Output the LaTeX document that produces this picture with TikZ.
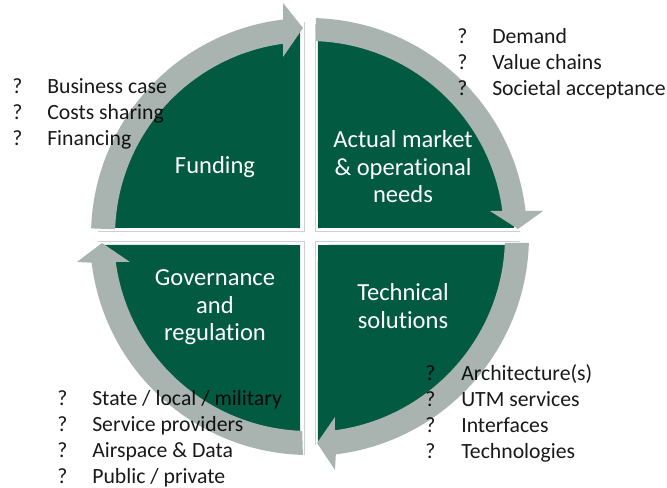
\documentclass[tikz,border=0pt]{standalone}
\usepackage{fontspec}
\setmainfont{Carlito}[Ligatures={NoCommon}]
\definecolor{deepgreen}{HTML}{025A40}
\definecolor{bandgrey}{HTML}{A9B3AF}
\definecolor{edgegrey}{HTML}{CFCFCF}
\tikzset{
  x=0.75pt,y=0.75pt,
  sector/.style={fill=deepgreen,draw=none},
  band/.style={fill=bandgrey,draw=none},
  edge/.style={draw=edgegrey,line width=0.7pt},
  title/.style={text=white,align=center,inner sep=0pt,font=\fontsize{18.4}{20.6}\selectfont},
  item/.style={text=black,anchor=base west,inner sep=0pt,font=\fontsize{16.3}{19.5}\selectfont,opacity=0.9},
}
\begin{document}
\begin{tikzpicture}
\useasboundingbox (0,0) rectangle (667,487);
\fill[white] (0,0) rectangle (667,487);
\begin{scope}[shift={(309,251)}]
% hairline frames
\draw[edge] (-211,5) -- (-5,5) -- (-5,214);
\draw[edge] (6,212) -- (6,5) -- (211,5);
\draw[edge] (-211,-5.5) -- (-5,-5.5) -- (-5,-219);
\draw[edge] (6,-209) -- (6,-5.5) -- (211,-5.5);
% quadrants
\path[sector] (-9,8) -- (177.7:205) arc[start angle=177.7,end angle=92.5,radius=205] -- cycle;
\path[sector] (9,8) -- (87.5:205) arc[start angle=87.5,end angle=2.3,radius=205] -- cycle;
\path[sector] (9,-9) -- (-2.5:205) arc[start angle=-2.5,end angle=-87.5,radius=205] -- cycle;
\path[sector] (-9,-9) -- (182.5:205) arc[start angle=182.5,end angle=267.5,radius=205] -- cycle;
% circular arrows
\path[band] (178:218) arc[start angle=178,end angle=96.8,radius=218]
  -- (-26,233) -- (-6,208) -- (-26,179)
  -- (97.7:194) arc[start angle=97.7,end angle=178,radius=194] -- cycle;
\path[band] (88.2:218) arc[start angle=88.2,end angle=6.6,radius=218]
  -- (234,25) -- (209,7) -- (181,25)
  -- (7.4:195) arc[start angle=7.4,end angle=87.9,radius=195] -- cycle;
\path[band] (-1.8:220) arc[start angle=-1.8,end angle=-83,radius=220]
  -- (26,-234) -- (8,-207) -- (26,-181)
  -- (-82.4:196) arc[start angle=-82.4,end angle=-2,radius=196] -- cycle;
\path[band] (268.4:219) arc[start angle=268.4,end angle=187,radius=219]
  -- (-232,-26) -- (-207,-7) -- (-179,-26)
  -- (187.6:195) arc[start angle=187.6,end angle=268,radius=195] -- cycle;
\end{scope}
% quadrant titles
\node[title] (funding) at (215,319.5) {Funding};
\node[title] (market) at (403,320) {Actual market\\\&\ operational\\needs};
\node[title] (tech) at (403,181) {Technical\\solutions};
\node[title] (gov) at (215,179.5) {Governance\\and\\regulation};
% lists
\node[item] (a1) at (457,444) {?}; \node[item] (a2) at (492,444) {Demand};
\node[item] (a3) at (457,418) {?}; \node[item] (a4) at (492,418) {Value chains};
\node[item] (a5) at (457,392) {?}; \node[item] (a6) at (492,392) {Societal acceptance};
\node[item] (b1) at (12,394) {?}; \node[item] (b2) at (47,394) {Business case};
\node[item] (b3) at (12,368) {?}; \node[item] (b4) at (47,368) {Costs sharing};
\node[item] (b5) at (12,342) {?}; \node[item] (b6) at (47,342) {Financing};
\node[item] (c1) at (57,82) {?}; \node[item] (c2) at (92,82) {State / local / military};
\node[item] (c3) at (57,56) {?}; \node[item] (c4) at (92,56) {Service providers};
\node[item] (c5) at (57,30) {?}; \node[item] (c6) at (92,30) {Airspace \& Data};
\node[item] (c7) at (57,4) {?}; \node[item] (c8) at (92,4) {Public / private};
\node[item] (d1) at (425,107) {?}; \node[item] (d2) at (461,107) {Architecture(s)};
\node[item] (d3) at (425,81) {?}; \node[item] (d4) at (461,81) {UTM services};
\node[item] (d5) at (425,55) {?}; \node[item] (d6) at (461,55) {Interfaces};
\node[item] (d7) at (425,29) {?}; \node[item] (d8) at (461,29) {Technologies};
\end{tikzpicture}
\end{document}
